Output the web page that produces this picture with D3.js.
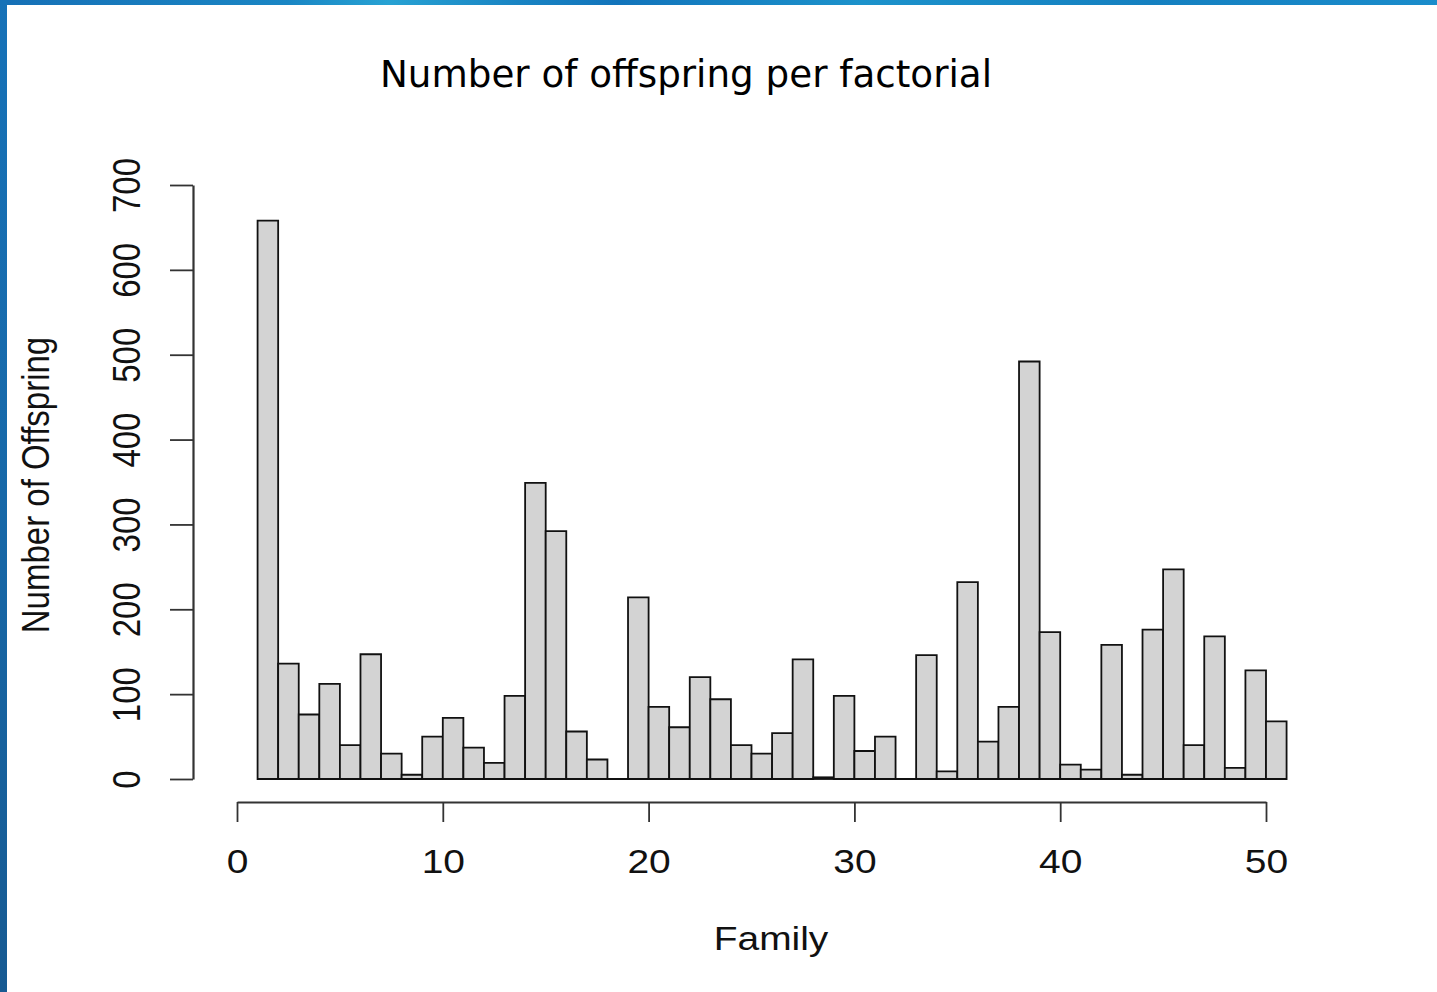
<!DOCTYPE html>
<html>
<head>
<meta charset="utf-8">
<script src="https://cdn.jsdelivr.net/npm/d3@7"></script>
<style>
  html, body { margin: 0; padding: 0; background: #fff; }
  svg { display: block; }
</style>
</head>
<body>
<div id="chart"></div>
<script>
// Offspring counts for each of the 50 families (family k spans [k, k+1] on the axis)
const families = d3.range(1, 51);
const offspring = [658, 136, 76, 112, 40, 147, 30, 5, 50, 72,
                   37, 19, 98, 349, 292, 56, 23, 0, 214, 85,
                   61, 120, 94, 40, 30, 54, 141, 2, 98, 33,
                   50, 0, 146, 9, 232, 44, 85, 492, 173, 17,
                   11, 158, 5, 176, 247, 40, 168, 13, 128, 68];
const xTicks = [0, 10, 20, 30, 40, 50];
const yTicks = [0, 100, 200, 300, 400, 500, 600, 700];
const titleText = "Number of offspring per factorial";
const xTitle = "Family";
const yTitle = "Number of Offspring";

const W = 1437, H = 992;
const svg = d3.select("#chart").append("svg").attr("width", W).attr("height", H);

// Slide frame: blue strip along the top and left edges
const defs = svg.append("defs");
const gTop = defs.append("linearGradient").attr("id", "topStrip").attr("x1", "0").attr("x2", "1");
[[0, "#1670b6"], [0.2, "#1a86c4"], [0.27, "#27a2d3"], [0.36, "#1984c3"], [0.43, "#1274bb"],
 [0.6, "#1c92cb"], [0.8, "#1580c0"], [1, "#1a8ccb"]].forEach(([o, c]) =>
  gTop.append("stop").attr("offset", o).attr("stop-color", c));
const gLeft = defs.append("linearGradient").attr("id", "leftStrip").attr("x1", "0").attr("x2", "0").attr("y1", "0").attr("y2", "1");
[[0, "#1672b8"], [0.5, "#1768a8"], [1, "#175a92"]].forEach(([o, c]) =>
  gLeft.append("stop").attr("offset", o).attr("stop-color", c));
svg.append("rect").attr("x", 0).attr("y", 0).attr("width", W).attr("height", 5).attr("fill", "url(#topStrip)");
svg.append("rect").attr("x", 0).attr("y", 0).attr("width", 7).attr("height", H).attr("fill", "url(#leftStrip)");

// Scales
const x = d3.scaleLinear().domain([0, 50]).range([237, 1266]);
const y = d3.scaleLinear().domain([0, 700]).range([779, 185]);

const FONT = "'Liberation Sans', Arial, Helvetica, sans-serif";
const FS = 33;      // label font size
const SX = 1.18;    // horizontal stretch of the plot text

// Bars as closed paths, so empty families still show their outline on the baseline
svg.append("g").selectAll("path").data(families).join("path")
  .attr("d", (d, i) => {
    const p = d3.path();
    p.rect(x(d), y(offspring[i]), x(d + 1) - x(d), y(0) - y(offspring[i]));
    return p.toString();
  })
  .attr("fill", "#d3d3d3")
  .attr("stroke", "#111")
  .attr("stroke-width", 1.8);

// X axis (offset below the bars)
const xAxis = svg.append("g").attr("transform", "translate(0,802)")
  .call(d3.axisBottom(x).tickValues(xTicks).tickSize(20).tickSizeOuter(0).tickFormat(d3.format("d")));
xAxis.select(".domain").attr("stroke", "#333").attr("stroke-width", 2.2);
xAxis.selectAll(".tick line").attr("stroke", "#333").attr("stroke-width", 1.8);
xAxis.selectAll(".tick text")
  .attr("y", 0).attr("dy", 0)
  .attr("font-family", FONT).attr("font-size", FS).attr("fill", "#111")
  .attr("text-anchor", "middle")
  .attr("transform", `translate(0,71) scale(${SX},1)`);

// Y axis
const yAxis = svg.append("g").attr("transform", "translate(193,0)")
  .call(d3.axisLeft(y).tickValues(yTicks).tickSize(23).tickSizeOuter(0).tickFormat(d3.format("d")));
yAxis.select(".domain").attr("stroke", "#333").attr("stroke-width", 2.2);
yAxis.selectAll(".tick line").attr("stroke", "#333").attr("stroke-width", 1.8);
yAxis.selectAll(".tick text")
  .attr("x", 0).attr("dy", 0)
  .attr("font-family", FONT).attr("font-size", FS).attr("fill", "#111")
  .attr("text-anchor", "middle")
  .attr("transform", `translate(-53,0) rotate(-90) scale(1,${SX})`);

// Axis titles
svg.append("text")
  .attr("font-family", FONT).attr("font-size", FS).attr("fill", "#111")
  .attr("text-anchor", "middle")
  .attr("transform", `translate(771,950) scale(${SX},1)`)
  .text(xTitle);
svg.append("text")
  .attr("font-family", FONT).attr("font-size", FS).attr("fill", "#111")
  .attr("text-anchor", "middle")
  .attr("transform", `translate(49,485) rotate(-90) scale(1,${SX})`)
  .text(yTitle);

// Chart title
svg.append("text")
  .attr("x", 686).attr("y", 87)
  .attr("font-family", "'DejaVu Sans', Verdana, sans-serif")
  .attr("font-size", 37).attr("fill", "#000")
  .attr("text-anchor", "middle")
  .attr("textLength", 612).attr("lengthAdjust", "spacingAndGlyphs")
  .text(titleText);
</script>
</body>
</html>
